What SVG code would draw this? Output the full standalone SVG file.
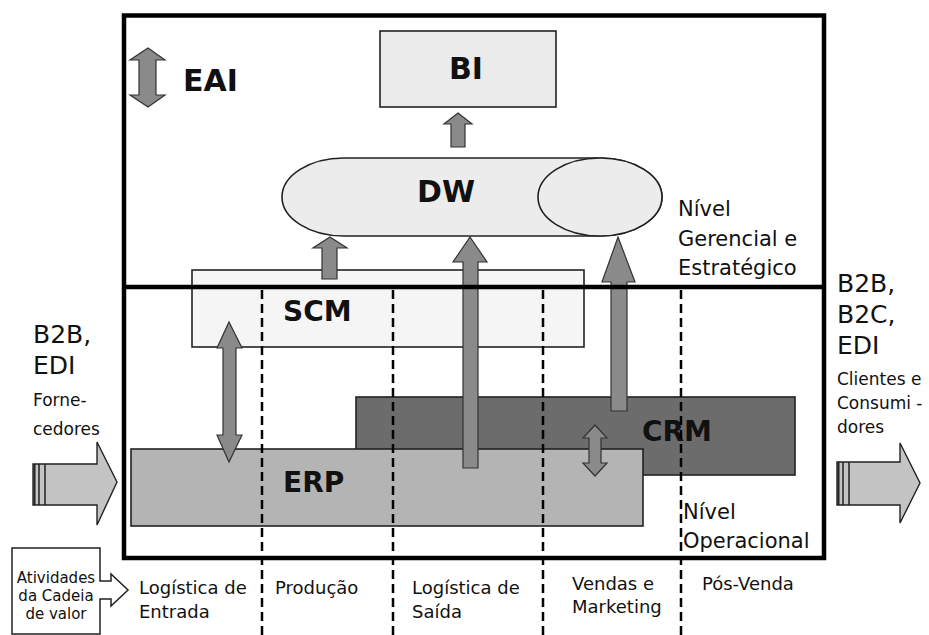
<svg xmlns="http://www.w3.org/2000/svg" width="929" height="635" viewBox="0 0 929 635">
<style>
text{font-family:"DejaVu Sans","Verdana",sans-serif;fill:#111}
.b{font-weight:bold;font-size:30px}
.bl{font-weight:bold;font-size:28px}
.lab{font-size:21px}
.big{font-size:25px}
.sm{font-size:17px}
.bot{font-size:18px}
.act{font-size:15px}
.box{stroke:#222;stroke-width:1.6}
.arr{fill:#8a8a8a;stroke:#333;stroke-width:1.2;stroke-linejoin:miter}
.fat{fill:#c4c4c4;stroke:#222;stroke-width:1.4}
.frame{fill:none;stroke:#000;stroke-width:4.5}
.dash{stroke:#000;stroke-width:2.5;stroke-dasharray:9 5;fill:none}
</style>
<rect width="929" height="635" fill="#fff"/>

<g id="crm"><rect class="box" x="356" y="397" width="439" height="78" fill="#6c6c6c"/></g>
<g id="erp"><rect class="box" x="131" y="449" width="512" height="77" fill="#b4b4b4"/></g>
<g id="scm"><rect class="box" x="192" y="270" width="392" height="77" fill="#f5f5f5"/></g>
<g id="bi"><rect class="box" x="380" y="31" width="176" height="76" fill="#ebebeb"/></g>
<g id="dw">
<path class="box" d="M344,158 L600,158 A62,39 0 0 1 600,236 L344,236 A62,39 0 0 1 344,158 Z" fill="#ececec"/>
<ellipse class="box" cx="600" cy="197" rx="62" ry="39" fill="#ececec"/>
</g>

<g id="connectors">
<polygon class="arr" points="458,113 472,124 465,124 465,147 451,147 451,124 444,124"/>
<polygon class="arr" points="330,237 347,248 337,248 337,279 322,279 322,248 313,248"/>
<polygon class="arr" points="470,237 487,262 478,262 478,468 463,468 463,262 453,262"/>
<polygon class="arr" points="618,237 635,282 627,282 627,411 611,411 611,282 602,282"/>
<polygon class="arr" points="229,322 242,348 236,348 236,435 242,435 229,462 217,435 223,435 223,348 217,348"/>
<polygon class="arr" points="595,425 607,438 601,438 601,463 607,463 595,476 583,463 589,463 589,438 583,438"/>
<polygon class="arr" points="148,48 165,60 156,60 156,95 165,95 148,107 130,95 139,95 139,60 130,60"/>
</g>

<g id="fornecedores-arrow">
<polygon class="fat" points="33,464 97,464 97,442 117,482 97,525 97,505 33,505"/>
<line x1="34.5" y1="464" x2="34.5" y2="505" stroke="#222" stroke-width="2"/>
<line x1="39" y1="464" x2="39" y2="505" stroke="#222" stroke-width="1.5"/>
<line x1="45" y1="464" x2="45" y2="505" stroke="#222" stroke-width="1.5"/>
</g>
<g id="clientes-arrow">
<polygon class="fat" points="837,462 900,462 900,443 920,483 900,523 900,505 837,505"/>
<line x1="838.5" y1="462" x2="838.5" y2="505" stroke="#222" stroke-width="2"/>
<line x1="843" y1="462" x2="843" y2="505" stroke="#222" stroke-width="1.5"/>
<line x1="849" y1="462" x2="849" y2="505" stroke="#222" stroke-width="1.5"/>
</g>

<g id="frame">
<rect class="frame" x="124" y="15.5" width="700" height="542.5"/>
<line x1="124" y1="287" x2="824" y2="287" stroke="#000" stroke-width="4.5"/>
</g>

<text class="bl" x="642" y="441">CRM</text>

<g id="dashes">
<line class="dash" x1="262" y1="290" x2="262" y2="635"/>
<line class="dash" x1="393" y1="290" x2="393" y2="635"/>
<line class="dash" x1="543" y1="290" x2="543" y2="635"/>
<line class="dash" x1="681" y1="290" x2="681" y2="635"/>
</g>

<g id="labels">
<text class="b" x="183" y="91">EAI</text>
<text class="b" x="466" y="79" text-anchor="middle">BI</text>
<text class="b" x="417" y="202">DW</text>
<text class="bl" x="283" y="321">SCM</text>
<text class="bl" x="283" y="492">ERP</text>
<text class="lab" x="678" y="216">Nível</text>
<text class="lab" x="678" y="246">Gerencial e</text>
<text class="lab" x="678" y="275">Estratégico</text>
<text class="lab" x="683" y="519">Nível</text>
<text class="lab" x="683" y="548">Operacional</text>
<text class="big" x="33" y="343">B2B,</text>
<text class="big" x="33" y="374">EDI</text>
<text class="sm" x="33" y="406">Forne-</text>
<text class="sm" x="33" y="435">cedores</text>
<text class="big" x="837" y="292">B2B,</text>
<text class="big" x="837" y="323">B2C,</text>
<text class="big" x="837" y="354">EDI</text>
<text class="sm" x="837" y="385">Clientes e</text>
<text class="sm" x="837" y="409">Consumi -</text>
<text class="sm" x="837" y="433">dores</text>
<text class="bot" x="139" y="594">Logística de</text>
<text class="bot" x="139" y="618">Entrada</text>
<text class="bot" x="275" y="594">Produção</text>
<text class="bot" x="412" y="594">Logística de</text>
<text class="bot" x="412" y="618">Saída</text>
<text class="bot" x="572" y="590">Vendas e</text>
<text class="bot" x="572" y="613">Marketing</text>
<text class="bot" x="702" y="590">Pós-Venda</text>
</g>

<g id="atividades">
<path d="M100,581 L100,548 L12,548 L12,634 L100,634 L100,599 L111,599 L111,606 L128,590 L111,574 L111,581 Z" fill="#fff" stroke="#222" stroke-width="1.5"/>
<text class="act" x="56" y="583" text-anchor="middle">Atividades</text>
<text class="act" x="56" y="601" text-anchor="middle">da Cadeia</text>
<text class="act" x="56" y="619" text-anchor="middle">de valor</text>
</g>
</svg>
